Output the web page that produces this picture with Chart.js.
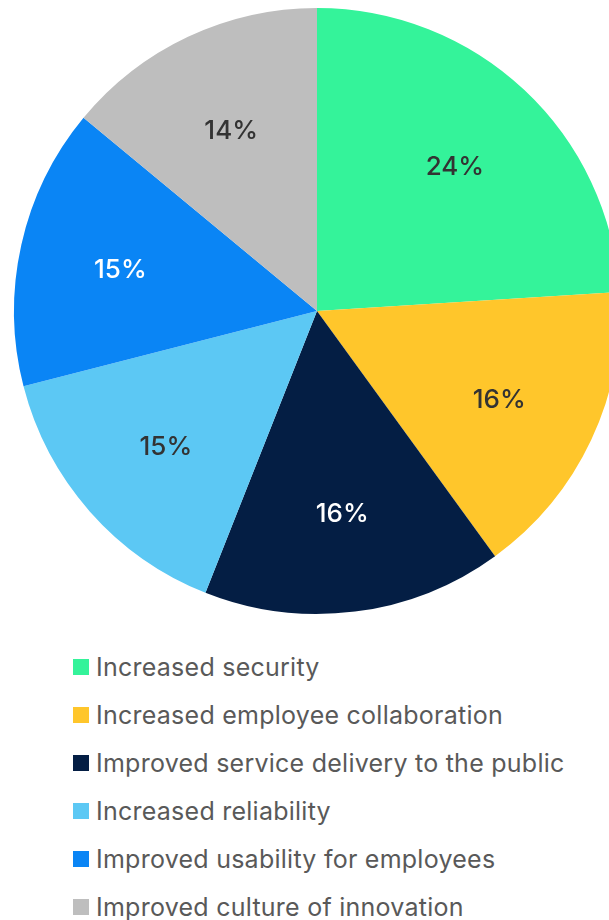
<!DOCTYPE html>
<html>
<head>
<meta charset="utf-8">
<script src="https://cdn.jsdelivr.net/npm/chart.js@4/dist/chart.umd.min.js"></script>
<style>
  html, body { margin: 0; padding: 0; background: #fff; overflow: hidden; width: 609px; height: 920px; }
  #pieWrap { position: absolute; left: 0; top: 0; width: 634px; height: 622px; }
  #legend { position: absolute; left: 73px; top: 651px; margin: 0; padding: 0; list-style: none;
            font-family: Inter, sans-serif; font-size: 25px; line-height: 32px; letter-spacing: 0.25px; color: #595959; }
  #legend li { height: 48px; display: flex; align-items: flex-start; white-space: nowrap; }
  #legend .box { width: 16px; height: 16px; margin: 8px 7px 0 0; flex: none; }
</style>
</head>
<body>
<div id="pieWrap"><canvas id="pie"></canvas></div>
<ul id="legend"></ul>
<script>
var categories = [
  'Increased security',
  'Increased employee collaboration',
  'Improved service delivery to the public',
  'Increased reliability',
  'Improved usability for employees',
  'Improved culture of innovation'
];
var shares = [24, 16, 16, 15, 15, 14];
var sliceColours = ['#34F39A', '#FFC62B', '#041E44', '#5CC8F4', '#0A85F5', '#BEBEBE'];
var labelColours = ['#333333', '#333333', '#FFFFFF', '#333333', '#FFFFFF', '#333333'];

// percent text inside each slice
var sliceLabels = {
  id: 'sliceLabels',
  afterDatasetsDraw: function(chart) {
    var ctx = chart.ctx;
    var meta = chart.getDatasetMeta(0);
    ctx.save();
    ctx.font = '500 26px Inter, sans-serif';
    ctx.textAlign = 'center';
    ctx.textBaseline = 'middle';
    meta.data.forEach(function(arc, i) {
      var mid = (arc.startAngle + arc.endAngle) / 2;
      var r = arc.outerRadius * 0.665;
      var x = arc.x + Math.cos(mid) * r;
      var y = arc.y + Math.sin(mid) * r + 3;
      ctx.fillStyle = labelColours[i];
      ctx.fillText(shares[i] + '%', x, y);
    });
    ctx.restore();
  }
};

var ctx = document.getElementById('pie');
var pieChart = new Chart(ctx, {
  type: 'pie',
  data: {
    labels: categories,
    datasets: [{
      data: shares,
      backgroundColor: sliceColours,
      borderWidth: 0
    }]
  },
  options: {
    responsive: true,
    maintainAspectRatio: false,
    animation: false,
    layout: { padding: { top: 8, bottom: 8, left: 0, right: 0 } },
    plugins: {
      legend: { display: false },
      tooltip: { enabled: false }
    }
  },
  plugins: [sliceLabels]
});

var legendEl = document.getElementById('legend');
for (i = 0; i < categories.length; i++) {
  var li = document.createElement('li');
  var box = document.createElement('span');
  box.className = 'box';
  box.style.background = sliceColours[i];
  li.appendChild(box);
  li.appendChild(document.createTextNode(categories[i]));
  legendEl.appendChild(li);
}
</script>
</body>
</html>
